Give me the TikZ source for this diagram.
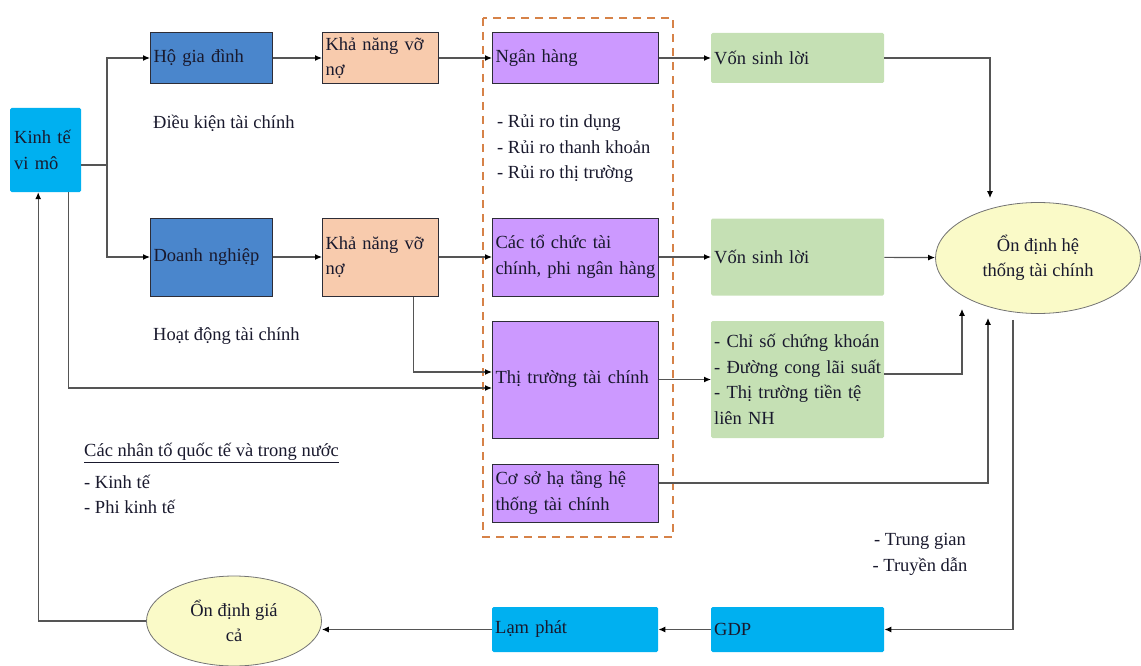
\documentclass[tikz,border=0pt]{standalone}
\usepackage{fontspec}
\setmainfont{Liberation Serif}
\usetikzlibrary{arrows.meta,shapes.geometric}

\begin{document}
\begin{tikzpicture}[
  x=1pt, y=-1pt,
  every node/.style={font=\fontsize{18.5}{25.5}\selectfont, text=ink},
  box/.style={anchor=west, inner xsep=3pt, inner ysep=0pt, align=left},
  hh/.style={box, fill=steel, draw=edge, line width=1pt, text width=116pt},
  kn/.style={box, fill=peach, draw=edge, line width=1pt, text width=110pt},
  tcbox/.style={box, fill=lilac, draw=edge, line width=1pt, text width=160pt},
  von/.style={box, fill=sage, rounded corners=1.5pt, text width=167pt},
  sky/.style={box, fill=cyanblue, rounded corners=1.5pt},
  oval/.style={ellipse, draw=black!55, fill=cream, line width=0.8pt, align=center, inner sep=0pt},
  note/.style={inner sep=0pt, align=left},
  link/.style={draw=wire, line width=1.2pt},
  arr/.style={link, -{Latex[length=7pt,width=6pt,color=black]}},
]
\definecolor{ink}{RGB}{25,25,45}
\definecolor{edge}{RGB}{45,45,55}
\definecolor{steel}{RGB}{74,134,204}
\definecolor{peach}{RGB}{248,203,173}
\definecolor{lilac}{RGB}{204,153,255}
\definecolor{sage}{RGB}{197,224,180}
\definecolor{cyanblue}{RGB}{0,176,240}
\definecolor{cream}{RGB}{250,250,200}
\definecolor{wire}{RGB}{85,85,85}
\definecolor{dashorange}{RGB}{214,130,72}

\useasboundingbox (0,0) rectangle (1141,666);

\draw [dashorange, line width=1.5pt, dash pattern=on 8pt off 6pt] (483,18) rectangle (673,537);

\node [sky, text width=63pt, inner xsep=4pt, minimum height=84pt] (kt) at (10,150) {Kinh tế\\vi mô};

\node [hh, minimum height=51pt] (hgd) at (150,58) {Hộ gia đình};
\node [hh, minimum height=78pt] (dn) at (150,257) {Doanh nghiệp};

\node [kn, minimum height=51pt] (kn1) at (322,58) {Khả năng vỡ\\nợ};
\node [kn, minimum height=78pt] (kn2) at (322,257) {Khả năng vỡ\\nợ};

\node [tcbox, minimum height=51pt] (nh) at (492,58) {Ngân hàng};
\node [tcbox, minimum height=78pt] (tc) at (492,257) {Các tổ chức tài\\chính, phi ngân hàng};
\node [tcbox, minimum height=117pt] (ttc) at (492,379.5) {Thị trường tài chính};
\node [tcbox, minimum height=58pt] (csht) at (492,493) {Cơ sở hạ tầng hệ\\thống tài chính};
\node [sky, text width=160pt, minimum height=45pt] (lp) at (492,629.5) {Lạm phát};

\node [von, minimum height=50pt] (v1) at (711,58) {Vốn sinh lời};
\node [von, minimum height=77pt] (v2) at (711,257) {Vốn sinh lời};
\node [von, minimum height=117pt] (cs) at (711,379.5) {- Chỉ số chứng khoán\\- Đường cong lãi suất\\- Thị trường tiền tệ\\liên NH};
\node [sky, text width=167pt, minimum height=45pt] (gdp) at (711,629.5) {GDP};

\node [oval, minimum width=205pt, minimum height=111pt] (od) at (1038,258) {Ổn định hệ\\thống tài chính};
\node [oval, minimum width=175pt, minimum height=90pt] (odg) at (234,621) {Ổn định giá\\cả};

\node [note, anchor=west] (dk) at (153,123) {Điều kiện tài chính};
\node [note, anchor=west] (hd) at (153,336) {Hoạt động tài chính};
\node [note, anchor=west] (rr) at (497,149) {- Rủi ro tin dụng\\- Rủi ro thanh khoản\\- Rủi ro thị trường};
\node [note, anchor=west] (nt) at (84,453) {\underline{Các nhân tố quốc tế và trong nước}};
\node [note, anchor=west] (ntl) at (84,494.5) {- Kinh tế\\- Phi kinh tế};
\node [note, align=center] (tg) at (920,554.5) {- Trung gian\\- Truyền dẫn};

% nhanh tu kinh te vi mo
\coordinate (br) at (107,165);
\draw [link] (kt.east |- br) -- (br);
\draw [arr] (br) |- (hgd.west);
\draw [arr] (br) |- (dn.west);

\draw [arr] (hgd) -- (kn1);
\draw [arr] (dn) -- (kn2);
\draw [arr] (kn1) -- (nh);
\draw [arr] (kn2) -- (tc);
\draw [arr] ([xshift=33pt]kn2.south) |- ([yshift=7.5pt]ttc.west);
\draw [arr] ([xshift=22.5pt]kt.south) |- ([yshift=-8.5pt]ttc.west);

\draw [arr] (nh) -- (v1);
\draw [arr] (tc) -- (v2);
\draw [arr] (ttc) -- (cs);

% vao on dinh he thong tai chinh
\draw [arr] (v1.east) -| ([xshift=-48pt,yshift=4pt]od.north);
\draw [arr] (v2) -- (od);
\draw [arr] ([yshift=5.5pt]cs.east) -| ([xshift=-76pt,yshift=5pt]od.south);
\draw [arr] ([yshift=10pt]csht.east) -| ([xshift=-50pt,yshift=-4pt]od.south);

% vong phan hoi
\draw [arr] ([xshift=-25pt,yshift=-6pt]od.south) |- (gdp.east);
\draw [arr] (gdp) -- (lp);
\draw [arr] (lp.west) -- (lp.west -| odg.east);
\draw [arr] (odg.west) -| ([xshift=-7.5pt]kt.south);

\end{tikzpicture}
\end{document}
